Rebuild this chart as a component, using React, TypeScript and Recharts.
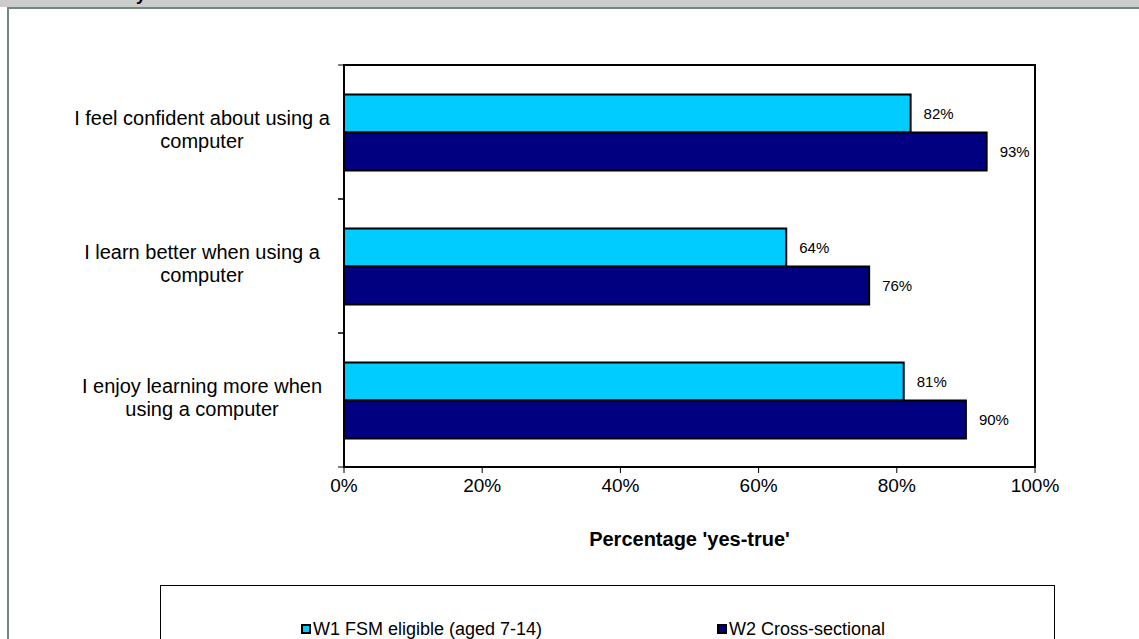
import React from 'react';
import { BarChart, Bar, XAxis, YAxis, LabelList, ReferenceArea } from 'recharts';

const categories = [
  'I feel confident about using a computer',
  'I learn better when using a computer',
  'I enjoy learning more when using a computer',
];
const categoryLines = [
  ['I feel confident about using a', 'computer'],
  ['I learn better when using a', 'computer'],
  ['I enjoy learning more when', 'using a computer'],
];
const w1Values = [82, 64, 81];
const w2Values = [93, 76, 90];
const xTicks = [0, 20, 40, 60, 80, 100];
const seriesNames = ['W1 FSM eligible (aged 7-14)', 'W2 Cross-sectional'];
const seriesColors = ['#00CCFF', '#000080'];

const data = categories.map((c, i) => ({ name: c, idx: i, w1: w1Values[i], w2: w2Values[i] }));

const FONT = '"Liberation Sans", Arial, Helvetica, sans-serif';
const W = 1139;
const H = 639;
const PLOT_TOP = 65;
const PLOT_BOTTOM = 467;
const PLOT_LEFT = 344;
const PLOT_RIGHT = 1035;
const X_AXIS_H = 30;
const BAND = (PLOT_BOTTOM - PLOT_TOP) / categories.length;
const LABEL_CX = 202;

const CategoryTick = (props: any) => {
  const { y, payload, index } = props;
  const i = typeof payload?.index === 'number' ? payload.index : index;
  const lines = categoryLines[i] || [String(payload.value)];
  const lh = 23;
  const startY = y - ((lines.length - 1) * lh) / 2 - 3;
  return (
    <g>
      <line x1={PLOT_LEFT - 6} x2={PLOT_LEFT} y1={y - BAND / 2} y2={y - BAND / 2} stroke="#000" strokeWidth={1} />
      <line x1={PLOT_LEFT - 6} x2={PLOT_LEFT} y1={y + BAND / 2} y2={y + BAND / 2} stroke="#000" strokeWidth={1} />
      <text x={LABEL_CX} y={startY} textAnchor="middle" dominantBaseline="central" fontFamily={FONT} fontSize={20} fill="#000">
        {lines.map((l: string, k: number) => (
          <tspan key={k} x={LABEL_CX} y={startY + k * lh}>{l}</tspan>
        ))}
      </text>
    </g>
  );
};

const LegendBox = () => (
  <div
    style={{
      position: 'absolute',
      left: 160,
      top: 585,
      width: 895,
      height: 80,
      border: '1px solid #000',
      boxSizing: 'border-box',
      fontFamily: FONT,
      fontSize: 18,
      color: '#000',
    }}
  >
    {seriesNames.map((n, i) => (
      <div
        key={n}
        style={{ position: 'absolute', left: i === 0 ? 140 : 556, top: 33, display: 'flex', alignItems: 'center', whiteSpace: 'nowrap', lineHeight: '20px' }}
      >
        <span style={{ display: 'inline-block', width: 6, height: 6, background: seriesColors[i], border: '2px solid #000', marginRight: 2 }} />
        <span>{n}</span>
      </div>
    ))}
  </div>
);

export default function App() {
  return (
    <div style={{ position: 'fixed', left: 0, top: 0, width: W, height: H, background: '#fff', overflow: 'hidden' }}>
      <div style={{ position: 'absolute', left: 0, top: 0, width: W, height: 7, background: '#cccccc', overflow: 'hidden' }}>
        <span style={{ position: 'absolute', left: 136, top: -16, fontFamily: FONT, fontSize: 18, fontWeight: 'bold', color: '#000', lineHeight: '20px' }}>y</span>
      </div>
      <div style={{ position: 'absolute', left: 7, top: 7, width: W, height: H, borderLeft: '2px solid #6f8a7a', borderTop: '2px solid #6f8a7a' }} />
      <div style={{ position: 'absolute', left: 0, top: 0 }}>
        <BarChart
          width={W}
          height={H}
          data={data}
          layout="vertical"
          margin={{ top: PLOT_TOP, right: W - PLOT_RIGHT, bottom: H - PLOT_BOTTOM - X_AXIS_H, left: 0 }}
          barCategoryGap="22%"
          barGap={0}
        >
          <XAxis
            type="number"
            domain={[0, 100]}
            ticks={xTicks}
            interval={0}
            tickFormatter={(v: number) => `${v}%`}
            tick={{ fontSize: 19, fill: '#000', fontFamily: FONT }}
            tickLine={{ stroke: '#000' }}
            tickSize={6}
            tickMargin={6}
            axisLine={{ stroke: '#000', strokeWidth: 2 }}
            height={X_AXIS_H}
            label={{ value: "Percentage 'yes-true'", position: 'bottom', offset: 35, fontSize: 20, fontWeight: 'bold', fill: '#000', fontFamily: FONT }}
          />
          <YAxis
            type="category"
            dataKey="name"
            width={PLOT_LEFT}
            tick={<CategoryTick />}
            tickLine={false}
            axisLine={{ stroke: '#000', strokeWidth: 2 }}
            interval={0}
          />
          <ReferenceArea x1={0} x2={100} fill="none" stroke="#000" strokeWidth={2} ifOverflow="visible" />
          <Bar dataKey="w1" name={seriesNames[0]} fill={seriesColors[0]} stroke="#000" strokeWidth={2} isAnimationActive={false}>
            <LabelList dataKey="w1" position="right" offset={13} formatter={(v: any) => `${v}%`} style={{ fontSize: 15, fill: '#000', fontFamily: FONT }} />
          </Bar>
          <Bar dataKey="w2" name={seriesNames[1]} fill={seriesColors[1]} stroke="#000" strokeWidth={2} isAnimationActive={false}>
            <LabelList dataKey="w2" position="right" offset={13} formatter={(v: any) => `${v}%`} style={{ fontSize: 15, fill: '#000', fontFamily: FONT }} />
          </Bar>
        </BarChart>
      </div>
      <LegendBox />
    </div>
  );
}
